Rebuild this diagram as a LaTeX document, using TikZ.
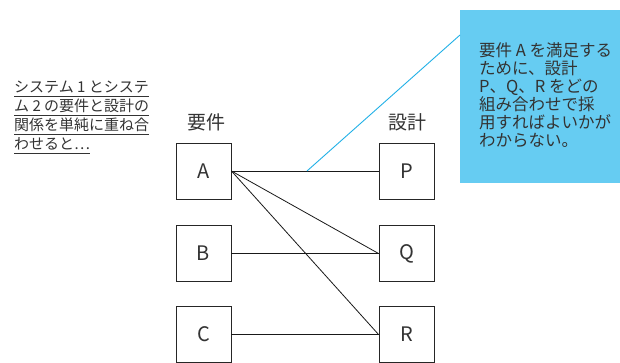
\documentclass[tikz,border=0pt]{standalone}
\usepackage{fontspec}
\setmainfont{Noto Sans CJK JP}
\begin{document}
\begin{tikzpicture}[x=1pt,y=-1pt,
  box/.style={draw=black!85,line width=0.9pt,minimum width=55pt,minimum height=56pt,inner sep=0pt,font=\fontsize{20}{22}\selectfont,text=black!80},
  link/.style={draw=black!90,line width=0.8pt},
  head/.style={font=\fontsize{19}{20}\selectfont,inner sep=0pt,text=black!80},
  note/.style={fill=notefill,draw=none,minimum width=160pt,minimum height=173pt,inner sep=0pt},
  notetext/.style={align=left,anchor=north west,inner sep=0pt,font=\fontsize{16.5}{18}\selectfont,text=black!80},
  leftline/.style={anchor=base west,inner sep=0pt,font=\fontsize{15}{19}\selectfont,text=black!80},
  uline/.style={draw=black!80,line width=0.8pt}]
\definecolor{notefill}{RGB}{102,204,242}
\definecolor{callout}{RGB}{30,175,230}
\useasboundingbox (0,0) rectangle (620,363);
\node[note] (n) at (540,96.5) {};
\node[notetext] (nt) at (479,42) {要件 A を満足する\\ために、設計\\P、Q、R をどの\\組み合わせで採\\用すればよいかが\\わからない。};
\node[leftline] (l1) at (14,93) {システム 1 とシステ};
\node[leftline] (l2) at (14,112) {ム 2 の要件と設計の};
\node[leftline] (l3) at (14,131) {関係を単純に重ね合};
\node[leftline] (l4) at (14,150) {わせると…};
\draw[uline] (14,96) -- (l1.east |- 0,96);
\draw[uline] (14,115) -- (l2.east |- 0,115);
\draw[uline] (14,134) -- (l3.east |- 0,134);
\draw[uline] (14,153) -- (l4.east |- 0,153);
\node[head] (hr) at (206,122) {要件};
\node[head] (hd) at (407,122) {設計};
\node[box] (A) at (203.5,171) {A};
\node[box] (B) at (203.5,253.5) {B};
\node[box] (C) at (203.5,334.5) {C};
\node[box] (P) at (406.5,171) {P};
\node[box] (Q) at (406.5,253.5) {Q};
\node[box] (R) at (406.5,334.5) {R};
\draw[link] (A.east) -- (P.west);
\draw[link] (A.east) -- (Q.west);
\draw[link] (A.east) -- (R.west);
\draw[link] (B.east) -- (Q.west);
\draw[link] (C.east) -- (R.west);
\coordinate (cp) at (307,171);
\coordinate (ce) at (460,35);
\draw[callout,line width=0.9pt] (cp) -- (ce);
\end{tikzpicture}
\end{document}
